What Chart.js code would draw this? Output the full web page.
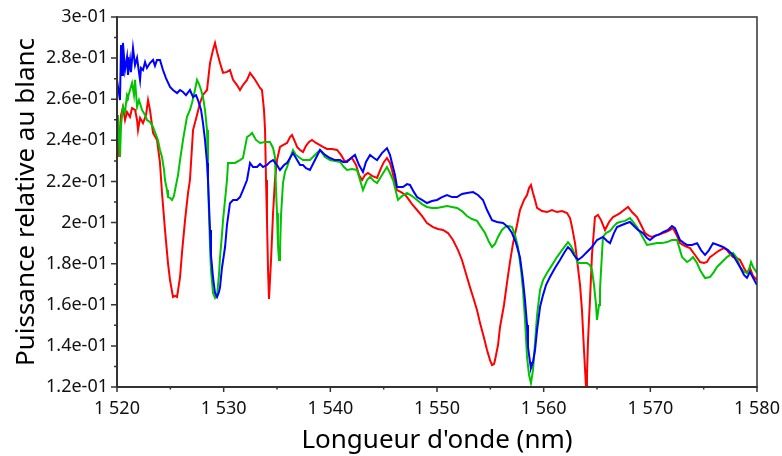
<!DOCTYPE html>
<html>
<head>
<meta charset="utf-8">
<script src="https://cdn.jsdelivr.net/npm/chart.js@4/dist/chart.umd.min.js"></script>
<style>
  html, body { margin: 0; padding: 0; background: #ffffff; }
  #wrap { width: 782px; height: 456px; position: relative; }
</style>
</head>
<body>
<div id="wrap"><canvas id="c" width="782" height="456"></canvas></div>
<script>
// ---- Data (wavelength nm, relative power) ----
const xTitle = "Longueur d'onde (nm)";
const yTitle = "Puissance relative au blanc";
const xMajorTicks = [1520, 1530, 1540, 1550, 1560, 1570, 1580];
const xMinorTicks = [1525, 1535, 1545, 1555, 1565, 1575];
const yMajorTicks = [0.12, 0.14, 0.16, 0.18, 0.20, 0.22, 0.24, 0.26, 0.28, 0.30];
const yMinorTicks = [0.13, 0.15, 0.17, 0.19, 0.21, 0.23, 0.25, 0.27, 0.29];

const blueSeries = [
[1520.00,0.2693],[1520.28,0.2596],[1520.38,0.2864],[1520.47,0.2718],[1520.56,0.2874],[1520.75,0.2742],
[1520.94,0.2805],[1521.03,0.2718],[1521.22,0.2791],[1521.31,0.2732],[1521.50,0.2849],[1521.69,0.2766],
[1521.88,0.2801],[1522.16,0.2693],[1522.25,0.2752],[1522.44,0.2742],[1522.63,0.2781],[1522.81,0.2752],
[1523.09,0.2776],[1523.38,0.2791],[1523.56,0.2762],[1523.75,0.2791],[1524.03,0.2791],[1524.31,0.2742],
[1524.59,0.2703],[1524.97,0.2660],[1525.25,0.2645],[1525.63,0.2630],[1525.91,0.2645],[1526.19,0.2635],
[1526.47,0.2620],[1526.84,0.2645],[1527.13,0.2611],[1527.41,0.2620],[1527.59,0.2596],[1527.88,0.2548],
[1528.06,0.2485],[1528.25,0.2402],[1528.44,0.2290],[1528.53,0.2207],[1528.72,0.1964],[1528.81,0.1841],
[1529.00,0.1735],[1529.19,0.1657],[1529.38,0.1638],[1529.56,0.1662],[1529.66,0.1686],[1529.84,0.1779],
[1530.13,0.1881],[1530.31,0.1988],[1530.59,0.2094],[1530.88,0.2110],[1531.25,0.2110],[1531.53,0.2124],
[1531.81,0.2158],[1532.19,0.2207],[1532.47,0.2290],[1532.75,0.2270],[1533.13,0.2270],[1533.41,0.2285],
[1533.69,0.2270],[1534.06,0.2280],[1534.34,0.2295],[1534.63,0.2304],[1535.00,0.2280],[1535.28,0.2256],
[1535.66,0.2280],[1535.94,0.2290],[1536.22,0.2314],[1536.50,0.2338],[1536.78,0.2314],[1537.16,0.2280],
[1537.44,0.2280],[1537.72,0.2265],[1538.09,0.2256],[1538.56,0.2304],[1539.03,0.2353],[1539.50,0.2329],
[1539.97,0.2314],[1540.44,0.2304],[1540.91,0.2304],[1541.19,0.2295],[1541.56,0.2295],[1541.94,0.2314],
[1542.31,0.2329],[1542.69,0.2280],[1543.06,0.2246],[1543.34,0.2295],[1543.72,0.2329],[1544.09,0.2314],
[1544.38,0.2304],[1544.84,0.2338],[1545.31,0.2362],[1545.59,0.2329],[1545.78,0.2290],[1546.06,0.2231],
[1546.25,0.2173],[1546.53,0.2173],[1546.81,0.2173],[1547.19,0.2187],[1547.47,0.2183],[1547.84,0.2148],
[1548.13,0.2124],[1548.59,0.2110],[1549.06,0.2095],[1549.53,0.2105],[1550.00,0.2110],[1550.47,0.2124],
[1550.94,0.2134],[1551.41,0.2124],[1551.88,0.2124],[1552.34,0.2139],[1552.81,0.2144],[1553.38,0.2148],
[1553.84,0.2134],[1554.31,0.2110],[1554.69,0.2061],[1555.16,0.2012],[1555.63,0.2003],[1556.19,0.1998],
[1556.66,0.1978],[1557.03,0.1949],[1557.41,0.1900],[1557.78,0.1832],[1558.06,0.1720],[1558.25,0.1623],
[1558.44,0.1502],[1558.53,0.1395],[1558.72,0.1322],[1558.81,0.1292],[1559.00,0.1322],[1559.19,0.1380],
[1559.38,0.1477],[1559.66,0.1589],[1559.94,0.1647],[1560.22,0.1696],[1560.59,0.1735],[1561.06,0.1779],
[1561.53,0.1818],[1561.91,0.1852],[1562.28,0.1881],[1562.56,0.1866],[1562.84,0.1842],[1563.22,0.1818],
[1563.59,0.1832],[1564.06,0.1857],[1564.53,0.1881],[1565.00,0.1915],[1565.56,0.1930],[1565.94,0.1910],
[1566.22,0.1900],[1566.59,0.1949],[1566.88,0.1978],[1567.34,0.1988],[1567.81,0.1998],[1568.09,0.2003],
[1568.47,0.1983],[1568.84,0.1964],[1569.31,0.1949],[1569.69,0.1925],[1569.97,0.1915],[1570.44,0.1935],
[1570.91,0.1944],[1571.19,0.1954],[1571.66,0.1964],[1572.03,0.1983],[1572.31,0.1973],[1572.59,0.1939],
[1572.78,0.1915],[1573.16,0.1900],[1573.44,0.1891],[1573.91,0.1891],[1574.38,0.1900],[1574.75,0.1866],
[1575.13,0.1842],[1575.50,0.1866],[1575.88,0.1900],[1576.34,0.1891],[1576.81,0.1881],[1577.28,0.1866],
[1577.75,0.1842],[1578.13,0.1808],[1578.41,0.1784],[1578.78,0.1745],[1579.06,0.1731],[1579.34,0.1760],
[1579.63,0.1731],[1580.00,0.1696]
];

const redSeries = [
[1520.00,0.2324],[1520.09,0.2435],[1520.28,0.2450],[1520.38,0.2523],[1520.56,0.2562],[1520.75,0.2499],
[1520.94,0.2538],[1521.22,0.2514],[1521.41,0.2557],[1521.69,0.2548],[1521.88,0.2499],[1521.97,0.2450],
[1522.16,0.2509],[1522.44,0.2484],[1522.72,0.2523],[1522.91,0.2596],[1523.09,0.2548],[1523.38,0.2436],
[1523.75,0.2402],[1524.03,0.2290],[1524.22,0.2144],[1524.50,0.1964],[1524.78,0.1803],[1524.97,0.1720],
[1525.25,0.1638],[1525.44,0.1643],[1525.63,0.1638],[1525.91,0.1735],[1526.09,0.1852],[1526.38,0.2012],
[1526.66,0.2144],[1526.84,0.2207],[1527.13,0.2450],[1527.50,0.2523],[1527.78,0.2582],[1528.06,0.2621],
[1528.44,0.2645],[1528.72,0.2776],[1529.00,0.2840],[1529.19,0.2874],[1529.38,0.2830],[1529.66,0.2776],
[1529.94,0.2728],[1530.31,0.2733],[1530.59,0.2742],[1530.88,0.2694],[1531.25,0.2669],[1531.53,0.2645],
[1531.81,0.2669],[1532.19,0.2694],[1532.47,0.2728],[1532.84,0.2703],[1533.13,0.2679],[1533.41,0.2655],
[1533.59,0.2645],[1533.78,0.2548],[1533.88,0.2450],[1533.97,0.2207],[1534.06,0.2012],[1534.16,0.1769],
[1534.25,0.1628],[1534.44,0.1818],[1534.63,0.2046],[1534.81,0.2207],[1535.00,0.2304],[1535.28,0.2368],
[1535.56,0.2377],[1535.94,0.2387],[1536.22,0.2416],[1536.41,0.2426],[1536.69,0.2392],[1536.88,0.2368],
[1537.16,0.2353],[1537.44,0.2343],[1537.72,0.2373],[1538.00,0.2392],[1538.28,0.2402],[1538.66,0.2387],
[1539.03,0.2377],[1539.31,0.2368],[1539.69,0.2358],[1540.16,0.2358],[1540.63,0.2353],[1541.00,0.2329],
[1541.38,0.2295],[1541.66,0.2304],[1542.03,0.2314],[1542.41,0.2280],[1542.69,0.2231],[1542.97,0.2207],
[1543.25,0.2231],[1543.53,0.2241],[1543.91,0.2227],[1544.38,0.2217],[1544.75,0.2265],[1545.03,0.2295],
[1545.31,0.2314],[1545.59,0.2290],[1545.78,0.2256],[1546.06,0.2192],[1546.25,0.2158],[1546.63,0.2148],
[1546.91,0.2139],[1547.19,0.2124],[1547.66,0.2090],[1548.13,0.2061],[1548.59,0.2032],[1549.06,0.1998],
[1549.63,0.1978],[1550.09,0.1969],[1550.56,0.1964],[1551.03,0.1949],[1551.50,0.1915],[1551.97,0.1866],
[1552.34,0.1818],[1552.81,0.1735],[1553.09,0.1686],[1553.38,0.1638],[1553.75,0.1575],[1554.03,0.1512],
[1554.41,0.1438],[1554.69,0.1380],[1554.97,0.1331],[1555.16,0.1307],[1555.34,0.1312],[1555.44,0.1331],
[1555.72,0.1404],[1555.91,0.1492],[1556.28,0.1599],[1556.56,0.1706],[1556.84,0.1808],[1557.13,0.1900],
[1557.50,0.1988],[1557.78,0.2061],[1558.16,0.2110],[1558.44,0.2134],[1558.63,0.2168],[1558.81,0.2183],
[1559.00,0.2144],[1559.19,0.2110],[1559.38,0.2071],[1559.84,0.2056],[1560.31,0.2051],[1560.78,0.2061],
[1561.25,0.2051],[1561.72,0.2056],[1562.19,0.2046],[1562.47,0.2022],[1562.66,0.1978],[1562.94,0.1900],
[1563.13,0.1818],[1563.41,0.1696],[1563.59,0.1575],[1563.78,0.1380],[1563.97,0.1200],[1564.06,0.1258],
[1564.16,0.1429],[1564.34,0.1623],[1564.53,0.1842],[1564.81,0.2027],[1565.09,0.2037],[1565.38,0.2012],
[1565.75,0.1964],[1566.13,0.2003],[1566.50,0.2027],[1566.88,0.2037],[1567.16,0.2046],[1567.53,0.2061],
[1567.91,0.2076],[1568.28,0.2051],[1568.75,0.2027],[1569.13,0.1988],[1569.50,0.1949],[1569.88,0.1935],
[1570.16,0.1930],[1570.63,0.1939],[1571.19,0.1949],[1571.66,0.1959],[1572.13,0.1973],[1572.50,0.1935],
[1572.78,0.1900],[1573.25,0.1886],[1573.72,0.1876],[1574.19,0.1842],[1574.66,0.1808],[1575.03,0.1803],
[1575.31,0.1808],[1575.59,0.1832],[1575.88,0.1842],[1576.25,0.1857],[1576.53,0.1866],[1576.91,0.1876],
[1577.19,0.1866],[1577.47,0.1847],[1577.75,0.1832],[1578.13,0.1827],[1578.41,0.1818],[1578.78,0.1779],
[1579.06,0.1755],[1579.34,0.1779],[1579.63,0.1740],[1580.00,0.1721]
];

const greenSeries = [
[1520.00,0.2450],[1520.09,0.2523],[1520.19,0.2402],[1520.28,0.2319],[1520.38,0.2475],[1520.56,0.2562],
[1520.75,0.2538],[1520.94,0.2621],[1521.03,0.2611],[1521.22,0.2645],[1521.41,0.2679],[1521.59,0.2621],
[1521.69,0.2694],[1521.88,0.2562],[1522.06,0.2596],[1522.34,0.2548],[1522.63,0.2523],[1522.81,0.2499],
[1523.09,0.2489],[1523.38,0.2465],[1523.66,0.2426],[1523.84,0.2402],[1524.03,0.2353],[1524.22,0.2319],
[1524.41,0.2256],[1524.50,0.2207],[1524.69,0.2158],[1524.78,0.2124],[1524.97,0.2120],[1525.16,0.2110],
[1525.34,0.2129],[1525.44,0.2158],[1525.72,0.2231],[1525.91,0.2304],[1526.19,0.2402],[1526.56,0.2514],
[1526.84,0.2548],[1527.03,0.2582],[1527.31,0.2645],[1527.50,0.2694],[1527.69,0.2674],[1527.88,0.2645],
[1528.06,0.2611],[1528.25,0.2548],[1528.44,0.2450],[1528.53,0.2207],[1528.72,0.1881],[1528.81,0.1769],
[1529.00,0.1657],[1529.19,0.1633],[1529.38,0.1647],[1529.56,0.1745],[1529.66,0.1832],[1529.84,0.1940],
[1529.94,0.2012],[1530.13,0.2110],[1530.31,0.2207],[1530.41,0.2290],[1530.78,0.2290],[1531.06,0.2290],
[1531.53,0.2304],[1531.81,0.2314],[1532.19,0.2416],[1532.47,0.2426],[1532.66,0.2436],[1533.03,0.2402],
[1533.41,0.2387],[1533.88,0.2392],[1534.34,0.2392],[1534.63,0.2363],[1534.81,0.2319],[1534.91,0.2158],
[1535.00,0.2046],[1535.09,0.1891],[1535.19,0.1818],[1535.28,0.1866],[1535.38,0.2037],[1535.56,0.2192],
[1535.75,0.2246],[1535.94,0.2270],[1536.22,0.2314],[1536.50,0.2353],[1536.78,0.2329],[1537.16,0.2314],
[1537.44,0.2304],[1537.81,0.2304],[1538.09,0.2304],[1538.56,0.2329],[1539.03,0.2353],[1539.50,0.2319],
[1539.97,0.2304],[1540.44,0.2299],[1540.91,0.2295],[1541.28,0.2270],[1541.56,0.2256],[1542.03,0.2261],
[1542.50,0.2256],[1542.78,0.2207],[1543.06,0.2158],[1543.44,0.2207],[1543.72,0.2222],[1544.09,0.2202],
[1544.38,0.2192],[1544.84,0.2231],[1545.31,0.2270],[1545.59,0.2241],[1545.88,0.2207],[1546.16,0.2148],
[1546.34,0.2110],[1546.72,0.2129],[1547.19,0.2144],[1547.66,0.2129],[1548.13,0.2110],[1548.59,0.2090],
[1549.06,0.2076],[1549.53,0.2071],[1550.00,0.2071],[1550.47,0.2076],[1550.94,0.2081],[1551.41,0.2076],
[1551.88,0.2071],[1552.34,0.2056],[1552.81,0.2032],[1553.28,0.2017],[1553.75,0.2008],[1554.13,0.1978],
[1554.50,0.1949],[1554.88,0.1905],[1555.16,0.1881],[1555.44,0.1896],[1555.72,0.1930],[1556.09,0.1964],
[1556.38,0.1978],[1556.75,0.1983],[1557.03,0.1978],[1557.31,0.1940],[1557.59,0.1881],[1557.88,0.1769],
[1558.06,0.1672],[1558.25,0.1526],[1558.44,0.1346],[1558.63,0.1258],[1558.81,0.1219],[1559.00,0.1283],
[1559.19,0.1414],[1559.38,0.1550],[1559.66,0.1672],[1559.94,0.1720],[1560.31,0.1755],[1560.78,0.1793],
[1561.25,0.1832],[1561.72,0.1866],[1562.09,0.1891],[1562.28,0.1905],[1562.56,0.1886],[1562.75,0.1866],
[1563.03,0.1827],[1563.22,0.1803],[1563.69,0.1803],[1564.06,0.1803],[1564.34,0.1793],[1564.53,0.1769],
[1564.72,0.1696],[1564.91,0.1599],[1565.00,0.1526],[1565.19,0.1599],[1565.28,0.1672],[1565.38,0.1769],
[1565.56,0.1930],[1565.84,0.1949],[1566.22,0.1959],[1566.59,0.1983],[1566.88,0.1998],[1567.16,0.2003],
[1567.63,0.2008],[1568.09,0.2022],[1568.38,0.2003],[1568.75,0.1978],[1569.22,0.1935],[1569.69,0.1891],
[1570.16,0.1896],[1570.63,0.1900],[1571.09,0.1900],[1571.56,0.1905],[1572.03,0.1915],[1572.50,0.1915],
[1572.78,0.1866],[1572.97,0.1832],[1573.44,0.1808],[1573.72,0.1818],[1574.00,0.1832],[1574.38,0.1803],
[1574.66,0.1769],[1575.13,0.1730],[1575.59,0.1735],[1575.97,0.1760],[1576.25,0.1784],[1576.72,0.1808],
[1577.19,0.1832],[1577.75,0.1852],[1578.13,0.1827],[1578.41,0.1784],[1578.78,0.1760],[1579.16,0.1755],
[1579.44,0.1808],[1579.63,0.1784],[1580.00,0.1755]
];

const toPts = arr => arr.map(p => ({x: p[0], y: p[1]}));

function fmtX(v) {
  const s = String(Math.round(v));
  return s.replace(/\B(?=(\d{3})+(?!\d))/g, ' ');
}
function fmtY(v) {
  const r = Math.round(v * 100) / 100;
  return r.toExponential().replace(/e([+-])(\d)$/, 'e$10$2');
}

const AXIS_COLOR = '#333333';

const frameAndTicks = {
  id: 'frameAndTicks',
  afterDraw(chart) {
    const {ctx, chartArea: a, scales: {x, y}} = chart;
    ctx.save();
    ctx.strokeStyle = AXIS_COLOR;
    ctx.lineWidth = 1.5;
    ctx.beginPath();
    ctx.moveTo(a.left, a.top); ctx.lineTo(a.right, a.top); ctx.lineTo(a.right, a.bottom);
    ctx.stroke();
    ctx.lineWidth = 2;
    ctx.beginPath();
    ctx.moveTo(a.left, a.top - 0.75); ctx.lineTo(a.left, a.bottom + 1);
    ctx.moveTo(a.left - 1, a.bottom); ctx.lineTo(a.right + 0.75, a.bottom);
    ctx.stroke();
    ctx.lineWidth = 1.5;
    ctx.beginPath();
    xMajorTicks.forEach(v => { const px = x.getPixelForValue(v); ctx.moveTo(px, a.bottom); ctx.lineTo(px, a.bottom + 5); });
    xMinorTicks.forEach(v => { const px = x.getPixelForValue(v); ctx.moveTo(px, a.bottom); ctx.lineTo(px, a.bottom + 2.5); });
    yMajorTicks.forEach(v => { const py = y.getPixelForValue(v); ctx.moveTo(a.left, py); ctx.lineTo(a.left - 6, py); });
    yMinorTicks.forEach(v => { const py = y.getPixelForValue(v); ctx.moveTo(a.left, py); ctx.lineTo(a.left - 3, py); });
    ctx.stroke();
    ctx.restore();
  }
};

const FONT = '"Noto Sans", "Open Sans", sans-serif';

new Chart(document.getElementById('c'), {
  type: 'line',
  data: {
    datasets: [
      { label: 'bleu', data: toPts(blueSeries), borderColor: '#0000ff', borderWidth: 2, pointRadius: 0, tension: 0, fill: false },
      { label: 'vert', data: toPts(greenSeries), borderColor: '#00c400', borderWidth: 2, pointRadius: 0, tension: 0, fill: false },
      { label: 'rouge', data: toPts(redSeries), borderColor: '#ff0000', borderWidth: 2, pointRadius: 0, tension: 0, fill: false }
    ]
  },
  options: {
    responsive: false,
    animation: false,
    events: [],
    layout: { padding: { left: 0, top: 17, right: 25, bottom: 0 } },
    plugins: { legend: { display: false }, tooltip: { enabled: false } },
    scales: {
      x: {
        type: 'linear',
        min: 1520, max: 1580,
        afterFit(s) { s.height = 69; s.paddingLeft = 0; s.paddingRight = 0; },
        border: { display: false },
        grid: { display: false, drawTicks: false },
        ticks: {
          stepSize: 10, autoSkip: false, maxRotation: 0, padding: 11,
          color: '#111111', font: { family: FONT, size: 18 },
          callback: v => fmtX(v)
        },
        title: { display: true, text: xTitle, color: '#000000', font: { family: FONT, size: 26 }, padding: { top: 0, bottom: 0 } }
      },
      y: {
        type: 'linear',
        min: 0.12, max: 0.30,
        afterFit(s) { s.width = 117; s.paddingTop = 0; s.paddingBottom = 0; },
        border: { display: false },
        grid: { display: false, drawTicks: false },
        ticks: {
          stepSize: 0.02, autoSkip: false, padding: 9,
          color: '#111111', font: { family: FONT, size: 18 },
          callback: v => fmtY(v)
        },
        title: { display: true, text: yTitle, color: '#000000', font: { family: FONT, size: 26 }, padding: { top: 11, bottom: 0 } }
      }
    }
  },
  plugins: [frameAndTicks]
});
</script>
</body>
</html>
